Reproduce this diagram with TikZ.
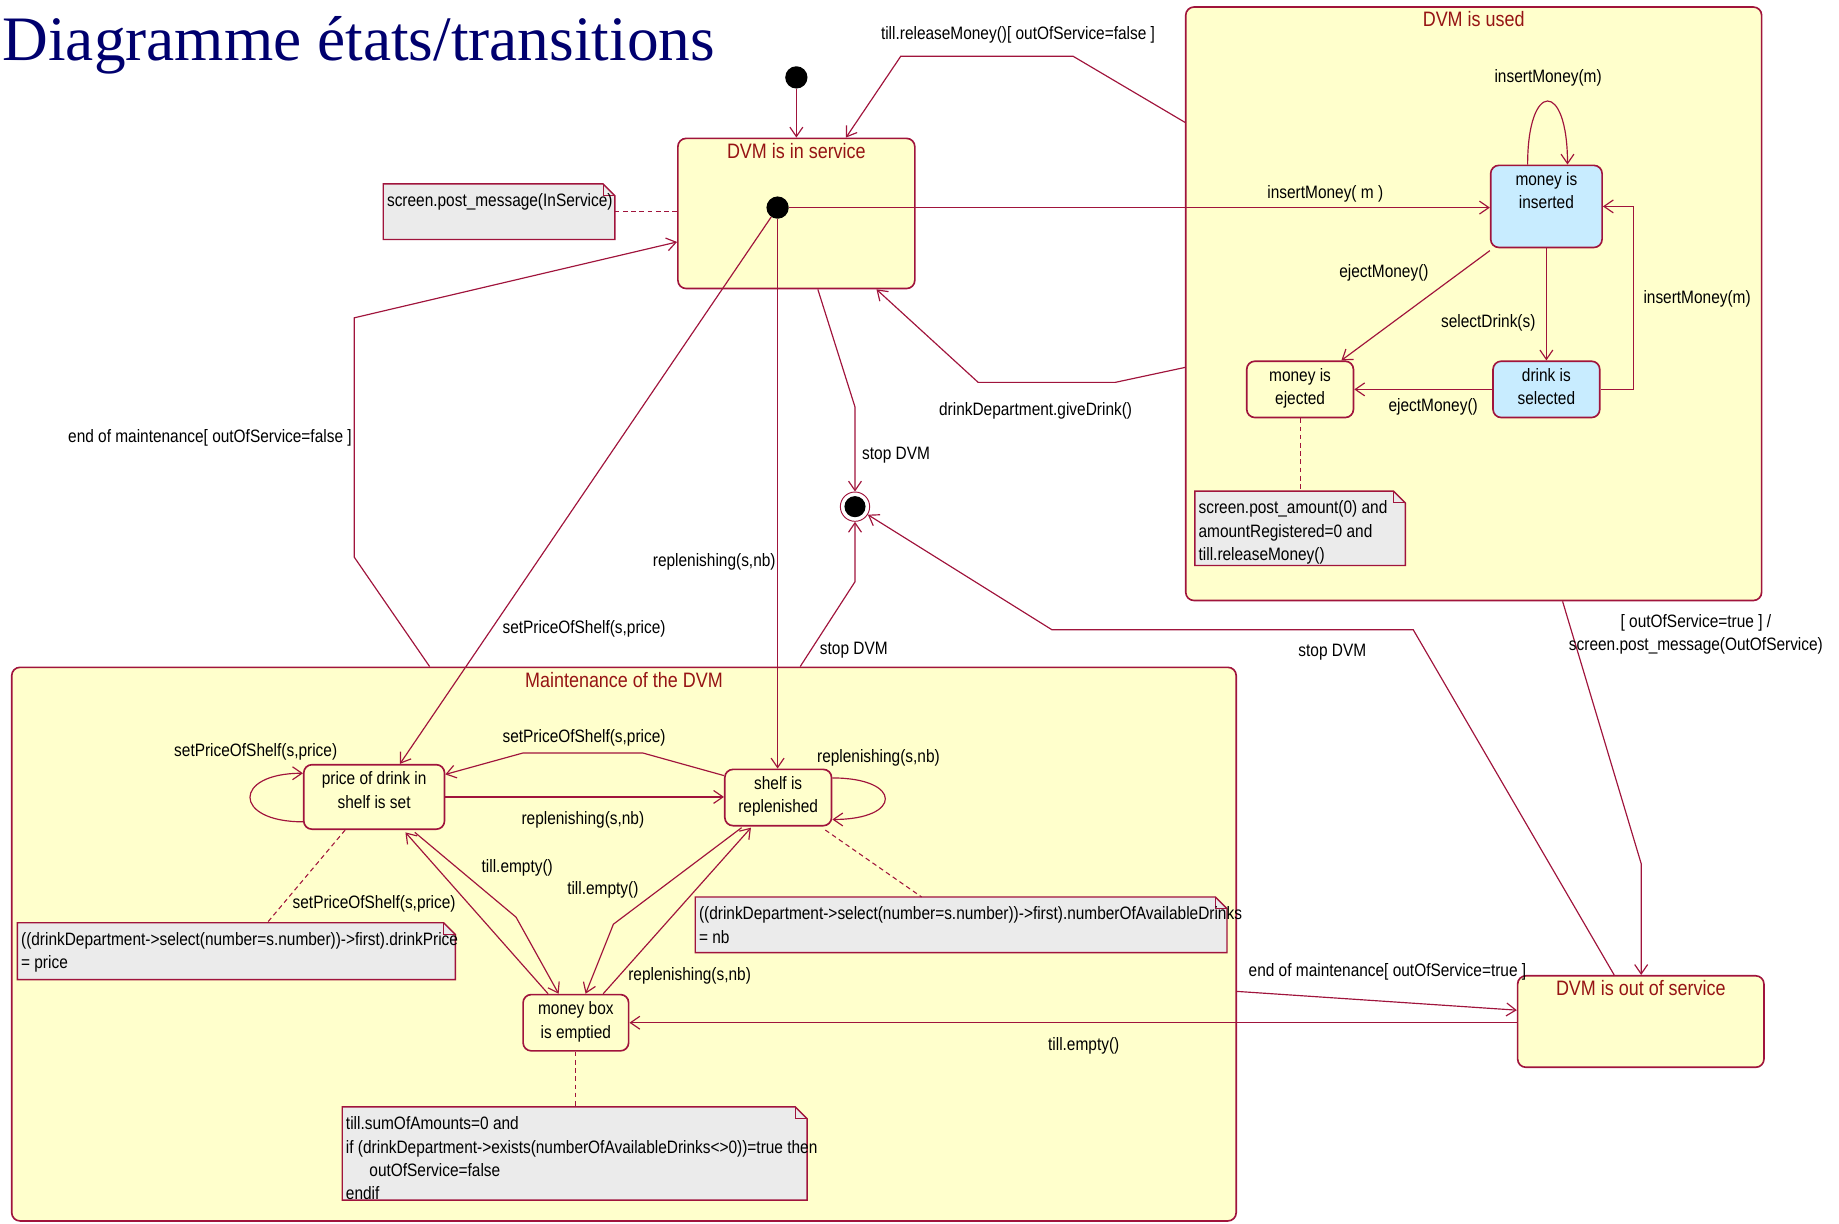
\documentclass[tikz,border=0pt]{standalone}
\usepackage{fontspec}
\setmainfont{Liberation Sans}[FakeStretch=0.86]
\newfontfamily\headfont{Liberation Serif}
\usetikzlibrary{arrows.meta,calc}

\definecolor{umlline}{RGB}{160,20,60}
\definecolor{umltitle}{RGB}{150,20,20}
\definecolor{umlyellow}{RGB}{255,255,204}
\definecolor{umlblue}{RGB}{200,236,255}
\definecolor{umlnote}{RGB}{235,235,235}
\definecolor{headnavy}{RGB}{0,0,110}

\tikzset{
  txt/.style={font=\fontsize{15.3}{20}\selectfont},
  comp/.style={draw=umlline, line width=1.4pt, rounded corners=7pt, fill=umlyellow, inner sep=0pt},
  simple/.style={draw=umlline, line width=1.4pt, rounded corners=7pt, fill=umlyellow, inner sep=0pt},
  ctitle/.style={anchor=north, inner sep=4.5pt, text=umltitle, font=\fontsize{17.8}{20}\selectfont},
  stext/.style={txt, anchor=north, inner sep=6.5pt, align=center},
  initdot/.style={circle, fill=black, minimum size=19pt, inner sep=0pt},
  finalring/.style={circle, draw=umlline, line width=0.8pt, fill=white, minimum size=25pt, inner sep=0pt},
  notebox/.style={inner sep=0pt, draw=none},
  notefill/.style={fill=umlnote},
  noteline/.style={draw=umlline, line width=1.2pt},
  ntext/.style={txt, anchor=north west, align=left, inner sep=0pt},
  tr/.style={draw=umlline, line width=1pt, -{Straight Barb[length=8pt,width=11pt,line width=1pt]}},
  nl/.style={draw=umlline, line width=0.9pt, dash pattern=on 4pt off 3pt},
  lbl/.style={txt, inner sep=0pt, yshift=-2pt},
}

% note with a folded top-right corner, drawn around an empty node
\newcommand\foldnote[1]{%
  \fill[notefill] (#1.north west) -- ($(#1.north east)+(-10,0)$) -- ($(#1.north east)+(0,10)$)
    -- (#1.south east) -- (#1.south west) -- cycle;
  \draw[noteline] (#1.north west) -- ($(#1.north east)+(-10,0)$) -- ($(#1.north east)+(0,10)$)
    -- (#1.south east) -- (#1.south west) -- cycle;
  \draw[noteline, line width=0.8pt] ($(#1.north east)+(-10,0)$) -- ($(#1.north east)+(-10,10)$) -- ($(#1.north east)+(0,10)$);
}

\begin{document}
\begin{tikzpicture}[x=1pt,y=-1pt]
\useasboundingbox (0,0) rectangle (1568,1043);

% heading
\node[anchor=base west, inner sep=0pt, text=headnavy, font=\headfont\fontsize{54}{60}\selectfont] (heading) at (2,52) {Diagramme états/transitions};

% composite states
\node[comp, minimum width=202pt, minimum height=128pt, label={[ctitle, name=service-t]north:DVM is in service}] (service) at (679,182) {};
\node[comp, minimum width=491pt, minimum height=506pt, label={[ctitle, name=used-t]north:DVM is used}] (used) at (1256.5,259) {};
\node[comp, minimum width=1044pt, minimum height=472pt, label={[ctitle, name=maint-t]north:Maintenance of the DVM}] (maint) at (532,805) {};
\node[comp, minimum width=210pt, minimum height=78pt, label={[ctitle, name=outsvc-t]north:DVM is out of service}] (outsvc) at (1399,871) {};

% notes
\node[notebox, minimum width=197pt, minimum height=47pt] (note1) at (425.5,180.5) {};
\node[notebox, minimum width=179pt, minimum height=63pt] (note2) at (1108.5,450.5) {};
\node[notebox, minimum width=373pt, minimum height=48pt] (note3) at (201.5,811) {};
\node[notebox, minimum width=453pt, minimum height=47pt] (note4) at (819.5,788.5) {};
\node[notebox, minimum width=396pt, minimum height=79pt] (note5) at (490,983.5) {};
\foldnote{note1}
\foldnote{note2}
\foldnote{note3}
\foldnote{note4}
\foldnote{note5}
\node[ntext] (note1-t) at ($(note1.north west)+(3,8)$) {screen.post\_message(InService)};
\node[ntext] (note2-t) at ($(note2.north west)+(3,8)$) {screen.post\_amount(0) and\\amountRegistered=0 and\\till.releaseMoney()};
\node[ntext] (note3-t) at ($(note3.north west)+(3,8)$) {((drinkDepartment->select(number=s.number))->first).drinkPrice\\= price};
\node[ntext] (note4-t) at ($(note4.north west)+(3,8)$) {((drinkDepartment->select(number=s.number))->first).numberOfAvailableDrinks\\= nb};
\node[ntext] (note5-t) at ($(note5.north west)+(3,8)$) {till.sumOfAmounts=0 and\\if (drinkDepartment->exists(numberOfAvailableDrinks<>0))=true then\\\hspace*{20pt}outOfService=false\\endif};

% simple states
\node[simple, fill=umlblue, minimum width=95pt, minimum height=70pt, label={[stext]north:{money is\\inserted}}] (inserted) at (1318.5,176) {};
\node[simple, minimum width=91pt, minimum height=48pt, label={[stext]north:{money is\\ejected}}] (ejected) at (1108.5,332) {};
\node[simple, fill=umlblue, minimum width=91pt, minimum height=48pt, label={[stext]north:{drink is\\selected}}] (selected) at (1318.5,332) {};
\node[simple, minimum width=120pt, minimum height=55pt, label={[stext]north:{price of drink in\\shelf is set}}] (priceset) at (319,679.5) {};
\node[simple, minimum width=91pt, minimum height=48pt, label={[stext]north:{shelf is\\replenished}}] (replen) at (663.5,680) {};
\node[simple, minimum width=90pt, minimum height=48pt, label={[stext]north:{money box\\is emptied}}] (emptied) at (491,872) {};

% pseudo states
\node[initdot] (start) at (679,66) {};
\node[initdot] (dot) at (663,177) {};
\node[finalring] (final) at (729,432) {};
\fill[black] (final.center) circle (9pt);

% transitions
\draw[tr] (start) -- (start |- service.north);
\draw[tr] ($(used.north west)+(0,99)$) -- (915,48) -- (768,48) -- ($(service.north west)+(144,0)$);
\draw[tr] (dot) -- (dot -| inserted.west);
\draw[tr] ($(inserted.north)+(-16,0)$) .. controls +(0,-72) and +(0,-72) .. ($(inserted.north)+(18,0)$);
\draw[tr] ($(inserted.south west)+(0,2)$) -- ($(ejected.north east)+(-11,0)$);
\draw[tr] (inserted.south) -- (selected.north);
\draw[tr] (selected.east) -- ++(28,0) |- (inserted.east);
\draw[tr] (selected.west) -- (ejected.east);
\draw[tr] ($(used.north west)+(0,308)$) -- (951,326) -- (834,326) -- ($(service.south west)+(170,0)$);
\draw[tr] ($(service.south west)+(120,0)$) -- (729,347) -- (final.north);
\draw[tr] ($(maint.north west)+(673,0)$) -- (729,496) -- (final.south);
\draw[tr] ($(outsvc.north west)+(83,0)$) -- (1205,537) -- (897,537) -- (final);
\draw[tr] ($(used.south west)+(322,0)$) -- ($(outsvc.north west)+(106,-95)$) -- ($(outsvc.north west)+(106,0)$);
\draw[tr] ($(maint.north east)+(0,277)$) -- ($(outsvc.north west)+(0,30)$);
\draw[tr] (emptied.east -| outsvc.west) -- (emptied.east);
\draw[tr] ($(maint.north west)+(357,0)$) -- (302,475) -- (302,271) -- ($(service.north west)+(0,89)$);
\draw[tr] (dot) -- ($(priceset.north)+(22,0)$);
\draw[tr] (dot) -- (dot |- replen.north);
\draw[tr] ($(priceset.south west)+(0,-7)$) .. controls +(-60,0) and +(-60,0) .. ($(priceset.north west)+(0,8)$);
\draw[tr] ($(replen.north east)+(0,8)$) .. controls +(60,0) and +(60,0) .. ($(replen.south east)+(0,-6)$);
\draw[tr] ($(replen.north west)+(0,6)$) -- (548,642) -- (446,642) -- ($(priceset.north east)+(0,9)$);
\draw[tr] (priceset.east) -- (priceset.east -| replen.west);
\draw[tr] ($(priceset.south east)+(-26,2)$) -- (440,782) -- ($(emptied.north west)+(31,0)$);
\draw[tr] ($(emptied.north west)+(22,0)$) -- ($(priceset.south east)+(-34,2)$);
\draw[tr] ($(replen.south west)+(15,1)$) -- (523,788) -- ($(emptied.north west)+(54,0)$);
\draw[tr] ($(emptied.north west)+(69,0)$) -- ($(replen.south west)+(23,1)$);

% note links
\draw[nl] (note1.east) -- (note1.east -| service.west);
\draw[nl] (ejected.south) -- (ejected.south |- note2.north);
\draw[nl] ($(priceset.south west)+(36,0)$) -- ($(note3.north west)+(213,0)$);
\draw[nl] ($(replen.south east)+(-6,3)$) -- ($(note4.north west)+(193,0)$);
\draw[nl] (emptied.south) -- (emptied.south |- note5.north);

% transition labels
\node[lbl] (l-release) at (868,28) {till.releaseMoney()[ outOfService=false ]};
\node[lbl] (l-loop) at (1320,64) {insertMoney(m)};
\node[lbl] (l-insert) at (1130,163) {insertMoney( m )};
\node[lbl] (l-eject1) at (1180,231) {ejectMoney()};
\node[lbl] (l-select) at (1269,273) {selectDrink(s)};
\node[lbl] (l-insert2) at (1447,253) {insertMoney(m)};
\node[lbl] (l-eject2) at (1222,345) {ejectMoney()};
\node[lbl] (l-give) at (883,348) {drinkDepartment.giveDrink()};
\node[lbl] (l-stop1) at (764,386) {stop DVM};
\node[lbl] (l-endf) at (179,371) {end of maintenance[ outOfService=false ]};
\node[lbl] (l-rep1) at (609,477) {replenishing(s,nb)};
\node[lbl] (l-set1) at (498,534) {setPriceOfShelf(s,price)};
\node[lbl] (l-stop2) at (728,552) {stop DVM};
\node[lbl] (l-stop3) at (1136,554) {stop DVM};
\node[lbl, align=center] (l-oos) at (1446,539) {[ outOfService=true ] /\\screen.post\_message(OutOfService)};
\node[lbl] (l-set2) at (218,639) {setPriceOfShelf(s,price)};
\node[lbl] (l-set3) at (498,627) {setPriceOfShelf(s,price)};
\node[lbl] (l-rep2) at (749,644) {replenishing(s,nb)};
\node[lbl] (l-rep3) at (497,697) {replenishing(s,nb)};
\node[lbl] (l-empty1) at (441,738) {till.empty()};
\node[lbl] (l-empty2) at (514,757) {till.empty()};
\node[lbl] (l-set4) at (319,769) {setPriceOfShelf(s,price)};
\node[lbl] (l-rep4) at (588,830) {replenishing(s,nb)};
\node[lbl] (l-endt) at (1183,827) {end of maintenance[ outOfService=true ]};
\node[lbl] (l-empty3) at (924,890) {till.empty()};
\end{tikzpicture}
\end{document}
